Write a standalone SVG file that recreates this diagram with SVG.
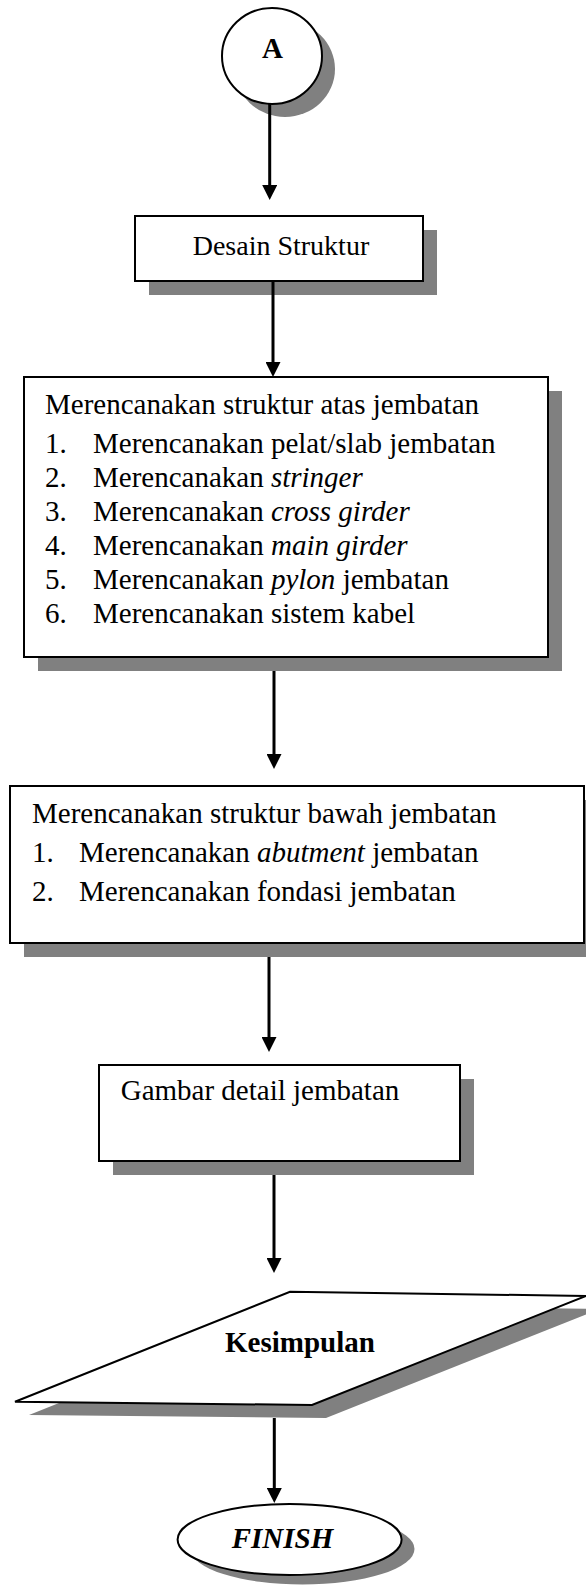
<svg xmlns="http://www.w3.org/2000/svg" width="586" height="1585" viewBox="0 0 586 1585">
<style>
.node{fill:#fff;stroke:#000;stroke-width:2}
.shadow{fill:#808080;stroke:none}
.t{font-family:"Liberation Serif","Times New Roman",serif;font-size:29px;fill:#000}
.b{font-weight:bold}
.i{font-style:italic}
.conn{stroke:#000;stroke-width:3;fill:none}
</style>
<defs>
<marker id="arr" markerUnits="userSpaceOnUse" markerWidth="15" markerHeight="15" refX="0" refY="7.5" orient="auto">
<path d="M0,0 L15,7.5 L0,15 z" fill="#000"/>
</marker>
</defs>
<rect width="586" height="1585" fill="#fff"/>

<g id="node-a">
<ellipse class="shadow" cx="285" cy="69" rx="50" ry="48"/>
<ellipse class="node" cx="272" cy="56" rx="50" ry="48"/>
<text class="t b" x="272.5" y="58" text-anchor="middle">A</text>
</g>

<g id="node-desain">
<rect class="shadow" x="149" y="230" width="288" height="65"/>
<rect class="node" x="135" y="216" width="288" height="65"/>
<text class="t" x="192.7" y="255" style="font-size:28px">Desain Struktur</text>
</g>

<g id="node-atas">
<rect class="shadow" x="38" y="391" width="524" height="280"/>
<rect class="node" x="24" y="377" width="524" height="280"/>
<text class="t" x="45" y="414">Merencanakan struktur atas jembatan</text>
<text class="t" x="45" y="453">1.</text><text class="t" x="93" y="453">Merencanakan pelat/slab jembatan</text>
<text class="t" x="45" y="487">2.</text><text class="t" x="93" y="487">Merencanakan <tspan class="i">stringer</tspan></text>
<text class="t" x="45" y="521">3.</text><text class="t" x="93" y="521">Merencanakan <tspan class="i">cross girder</tspan></text>
<text class="t" x="45" y="555">4.</text><text class="t" x="93" y="555">Merencanakan <tspan class="i">main girder</tspan></text>
<text class="t" x="45" y="589">5.</text><text class="t" x="93" y="589">Merencanakan <tspan class="i">pylon</tspan> jembatan</text>
<text class="t" x="45" y="623">6.</text><text class="t" x="93" y="623">Merencanakan sistem kabel</text>
</g>

<g id="node-bawah">
<rect class="shadow" x="24" y="800" width="574" height="157"/>
<rect class="node" x="10" y="786" width="574" height="157"/>
<text class="t" x="32" y="823">Merencanakan struktur bawah jembatan</text>
<text class="t" x="32" y="862">1.</text><text class="t" x="79" y="862">Merencanakan <tspan class="i">abutment</tspan> jembatan</text>
<text class="t" x="32" y="901">2.</text><text class="t" x="79" y="901">Merencanakan fondasi jembatan</text>
</g>

<g id="node-gambar">
<rect class="shadow" x="113" y="1079" width="361" height="96"/>
<rect class="node" x="99" y="1065" width="361" height="96"/>
<text class="t" x="120.7" y="1100">Gambar detail jembatan</text>
</g>

<g id="node-kesimpulan">
<polygon class="shadow" points="304,1305 600,1309 326,1418 29,1415"/>
<polygon class="node" points="290,1291.7 586,1296 312,1405 15,1401.7"/>
<text class="t b" x="225" y="1352">Kesimpulan</text>
</g>

<g id="node-finish">
<ellipse class="shadow" cx="302.5" cy="1549" rx="112" ry="35.5"/>
<ellipse class="node" cx="289.6" cy="1539.5" rx="112" ry="35.5"/>
<text class="t b i" x="231.7" y="1548">FINISH</text>
</g>

<g id="connectors">
<line class="conn" x1="269.7" y1="104" x2="269.7" y2="185" marker-end="url(#arr)"/>
<line class="conn" x1="273" y1="281" x2="273" y2="362" marker-end="url(#arr)"/>
<line class="conn" x1="274" y1="671" x2="274" y2="754" marker-end="url(#arr)"/>
<line class="conn" x1="269" y1="957" x2="269" y2="1037" marker-end="url(#arr)"/>
<line class="conn" x1="274" y1="1175" x2="274" y2="1258" marker-end="url(#arr)"/>
<line class="conn" x1="274.3" y1="1418" x2="274.3" y2="1488" marker-end="url(#arr)"/>
</g>
</svg>
